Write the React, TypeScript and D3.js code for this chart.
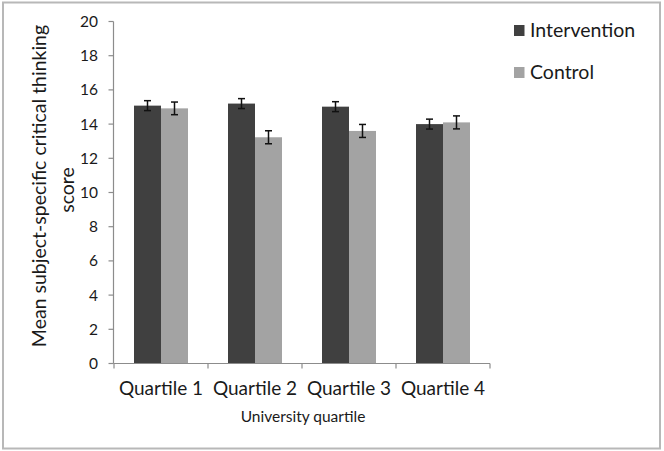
import React from "react";
import * as d3 from "d3";

const categories = ["Quartile 1", "Quartile 2", "Quartile 3", "Quartile 4"];
const seriesNames = ["Intervention", "Control"];
const interventionValues = [15.08, 15.2, 15.02, 14.0];
const controlValues = [14.92, 13.23, 13.6, 14.1];
const interventionErr = [0.29, 0.29, 0.29, 0.29];
const controlErr = [0.37, 0.38, 0.38, 0.38];
const yTicks = [0, 2, 4, 6, 8, 10, 12, 14, 16, 18, 20];
const colors = ["#404040", "#a3a3a3"];

const W = 664;
const H = 451;
const FONT = "Lato, 'Open Sans', sans-serif";

export default function App() {
  const x0 = d3.scaleBand<string>().domain(categories).range([114, 490]).paddingInner(0).paddingOuter(0);
  const x1 = d3
    .scaleBand<string>()
    .domain(seriesNames)
    .range([20, x0.bandwidth() - 20]);
  const y = d3.scaleLinear().domain([0, 20]).range([363.5, 21.5]);

  const series = [
    { name: seriesNames[0], values: interventionValues, errs: interventionErr, color: colors[0] },
    { name: seriesNames[1], values: controlValues, errs: controlErr, color: colors[1] },
  ];

  const axisColor = "#8c8c8c";
  const textColor = "#1a1a1a";
  const boundaries = [...categories.map((c) => x0(c)!), x0.range()[1]];

  return (
    <svg
      width={W}
      height={H}
      style={{ position: "absolute", left: 0, top: 0, background: "#fff" }}
      fontFamily={FONT}
    >
      <rect x={0} y={0} width={W} height={H} fill="#fff" />
      <rect x={3} y={2.5} width={657} height={446} fill="none" stroke="#b8b8b8" strokeWidth={2} />

      {/* bars */}
      {series.map((s) =>
        categories.map((c, i) => {
          const bx = x0(c)! + x1(s.name)!;
          return (
            <rect
              key={s.name + c}
              x={bx}
              y={y(s.values[i])}
              width={x1.bandwidth()}
              height={y(0) - y(s.values[i])}
              fill={s.color}
            />
          );
        })
      )}

      {/* error bars */}
      {series.map((s) =>
        categories.map((c, i) => {
          const cx = x0(c)! + x1(s.name)! + x1.bandwidth() / 2;
          const top = y(s.values[i] + s.errs[i]);
          const bot = y(s.values[i] - s.errs[i]);
          return (
            <g key={"e" + s.name + c} stroke="#111" strokeWidth={1.5}>
              <line x1={cx} x2={cx} y1={top} y2={bot} />
              <line x1={cx - 3.5} x2={cx + 3.5} y1={top} y2={top} />
              <line x1={cx - 3.5} x2={cx + 3.5} y1={bot} y2={bot} />
            </g>
          );
        })
      )}

      {/* y axis */}
      <line x1={113.5} x2={113.5} y1={y(20)} y2={y(0)} stroke={axisColor} strokeWidth={1.2} />
      {yTicks.map((t) => (
        <g key={t}>
          <line x1={108.5} x2={113.5} y1={y(t)} y2={y(t)} stroke={axisColor} strokeWidth={1.2} />
          <text
            x={98}
            y={y(t)}
            dy="0.36em"
            textAnchor="end"
            fontSize={15.5}
            fill={textColor}
          >
            {t}
          </text>
        </g>
      ))}

      {/* x axis */}
      <line x1={113.5} x2={490} y1={y(0)} y2={y(0)} stroke={axisColor} strokeWidth={1.2} />
      {boundaries.map((b, i) => (
        <line key={i} x1={b} x2={b} y1={y(0)} y2={y(0) + 5} stroke={axisColor} strokeWidth={1.2} />
      ))}
      {categories.map((c) => (
        <text
          key={c}
          x={x0(c)! + x0.bandwidth() / 2}
          y={395}
          textAnchor="middle"
          fontSize={19}
          fill={textColor}
        >
          {c}
        </text>
      ))}
      <text x={303} y={422} textAnchor="middle" fontSize={15.5} fill={textColor}>
        University quartile
      </text>

      {/* y title */}
      <text
        transform={`translate(46, 186) rotate(-90)`}
        textAnchor="middle"
        fontSize={19.5}
        fill={textColor}
      >
        Mean subject-specific critical thinking
      </text>
      <text
        transform={`translate(74, 190) rotate(-90)`}
        textAnchor="middle"
        fontSize={19.5}
        fill={textColor}
      >
        score
      </text>

      {/* legend */}
      {series.map((s, i) => (
        <g key={"l" + s.name} transform={`translate(514, ${25 + i * 42})`}>
          <rect x={0} y={0} width={10.5} height={11} fill={s.color} />
          <text x={16} y={11.8} fontSize={19.5} fill={textColor}>
            {s.name}
          </text>
        </g>
      ))}
    </svg>
  );
}
